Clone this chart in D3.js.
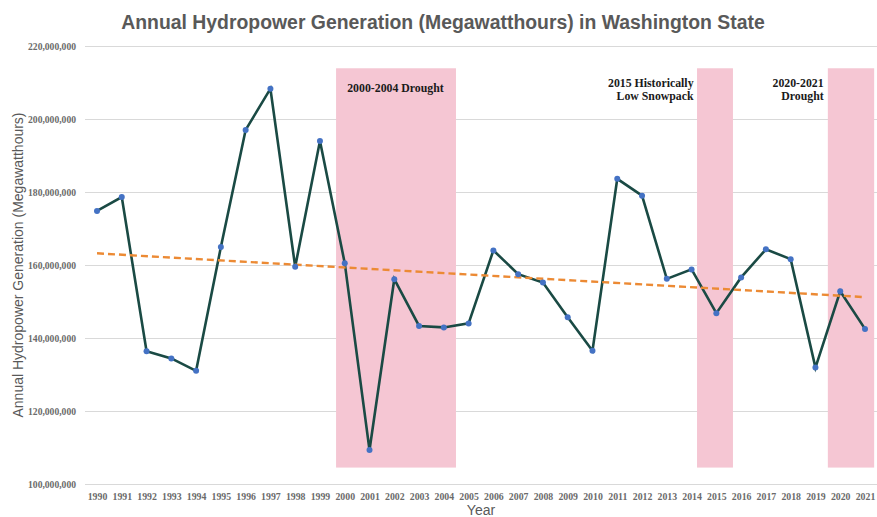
<!DOCTYPE html>
<html>
<head>
<meta charset="utf-8">
<script src="https://cdn.jsdelivr.net/npm/d3@7"></script>
<style>
  html, body { margin: 0; padding: 0; background: #ffffff; }
  svg { display: block; }
</style>
</head>
<body>
<svg id="chart" width="877" height="517"></svg>
<script>
// ---- Data ----
const years = [1990,1991,1992,1993,1994,1995,1996,1997,1998,1999,2000,2001,2002,2003,2004,2005,
               2006,2007,2008,2009,2010,2011,2012,2013,2014,2015,2016,2017,2018,2019,2020,2021];
const generation = [174.8,178.6,136.4,134.4,131.0,164.9,197.0,208.3,159.5,194.0,160.5,109.3,156.1,143.3,142.9,144.0,
                    164.0,157.5,155.2,145.7,136.5,183.6,179.0,156.2,158.8,146.8,156.6,164.3,161.6,131.9,152.8,142.5]
                    .map(v => v * 1e6);
const yTicks = [100e6,120e6,140e6,160e6,180e6,200e6,220e6];
const trendYears = [1990, 2021];
const trendValues = [163.2e6, 151.2e6];
// Shaded drought periods (in year units, as drawn) and their vertical extent
const bandStart = [1999.65, 2014.22, 2019.5];
const bandEnd   = [2004.49, 2015.67, 2021.37];
const bandTop = 213.9e6, bandBottom = 104.5e6;
const bandLabels = [
  { lines: ["2000-2004 Drought"], anchor: "start", year: 2000.1 },
  { lines: ["2015 Historically", "Low Snowpack"], anchor: "end", year: 2014.08 },
  { lines: ["2020-2021", "Drought"], anchor: "end", year: 2019.33 }
];
const titleText = "Annual Hydropower Generation (Megawatthours) in Washington State";
const yLabel = "Annual Hydropower Generation (Megawatthours)";
const xLabel = "Year";

// ---- Layout ----
const svg = d3.select("#chart");
const plotLeft = 85, plotRight = 877, plotTop = 46, plotBottom = 484;
const x = d3.scaleLinear().domain([1990, 2021]).range([97, 865]);
const y = d3.scaleLinear().domain([100e6, 220e6]).range([plotBottom, plotTop]);

// Gridlines + y tick labels
const yAxis = d3.axisLeft(y).tickValues(yTicks).tickFormat(d3.format(",")).tickSize(-(plotRight - plotLeft)).tickPadding(9);
const gy = svg.append("g").attr("transform", `translate(${plotLeft},0)`).call(yAxis);
gy.select(".domain").remove();
gy.selectAll(".tick line").attr("stroke", "#d9d9d9").attr("stroke-width", 1);
gy.selectAll(".tick text").attr("fill", "#6b6b6b").attr("font-family", "'Liberation Serif', serif")
  .attr("font-size", 9.6).attr("font-weight", "bold");

// Drought bands
svg.append("g").selectAll("rect").data(bandStart).join("rect")
  .attr("x", (d) => x(d))
  .attr("width", (d, i) => x(bandEnd[i]) - x(d))
  .attr("y", y(bandTop))
  .attr("height", y(bandBottom) - y(bandTop))
  .attr("fill", "#f5c6d3");

// X axis labels
const xAxis = d3.axisBottom(x).tickValues(years).tickFormat(d3.format("d")).tickSize(0).tickPadding(9);
const gx = svg.append("g").attr("transform", `translate(0,${plotBottom})`).call(xAxis);
gx.select(".domain").remove();
gx.selectAll(".tick text").attr("fill", "#6b6b6b").attr("font-family", "'Liberation Serif', serif")
  .attr("font-size", 9.8).attr("font-weight", "bold");

// Series line
const line = d3.line().x((d, i) => x(years[i])).y(d => y(d));
svg.append("path").datum(generation)
  .attr("d", line).attr("fill", "none").attr("stroke", "#1a4a44").attr("stroke-width", 2.6)
  .attr("stroke-linejoin", "miter");

// Trendline
svg.append("path").datum(trendValues)
  .attr("d", d3.line().x((d, i) => x(trendYears[i])).y(d => y(d)))
  .attr("fill", "none").attr("stroke", "#ec8a34").attr("stroke-width", 2.4)
  .attr("stroke-dasharray", "7,4");

// Markers
svg.append("g").selectAll("circle").data(generation).join("circle")
  .attr("cx", (d, i) => x(years[i])).attr("cy", d => y(d)).attr("r", 3)
  .attr("fill", "#4472c4");

// Band labels
const lbl = svg.append("g").attr("font-family", "'Liberation Serif', serif").attr("font-weight", "bold")
  .attr("font-size", 11.8).attr("fill", "#1a1a1a");
bandLabels.forEach((b, i) => {
  b.lines.forEach((ln, j) => {
    lbl.append("text").attr("text-anchor", b.anchor).attr("x", x(b.year))
      .attr("y", (i === 0 ? 92 : 86.5) + j * 13).text(ln);
  });
});

// Title
svg.append("text").attr("x", 443).attr("y", 29).attr("text-anchor", "middle")
  .attr("font-family", "'Liberation Sans', Arial, sans-serif").attr("font-weight", "bold")
  .attr("font-size", 19.4).attr("fill", "#595959").text(titleText);

// Axis titles
svg.append("text").attr("transform", `translate(23,265) rotate(-90)`).attr("text-anchor", "middle")
  .attr("font-family", "'Liberation Sans', Arial, sans-serif").attr("font-size", 14)
  .attr("fill", "#595959").text(yLabel);
svg.append("text").attr("x", 481).attr("y", 514.5).attr("text-anchor", "middle")
  .attr("font-family", "'Liberation Sans', Arial, sans-serif").attr("font-size", 14)
  .attr("fill", "#595959").text(xLabel);
</script>
</body>
</html>
